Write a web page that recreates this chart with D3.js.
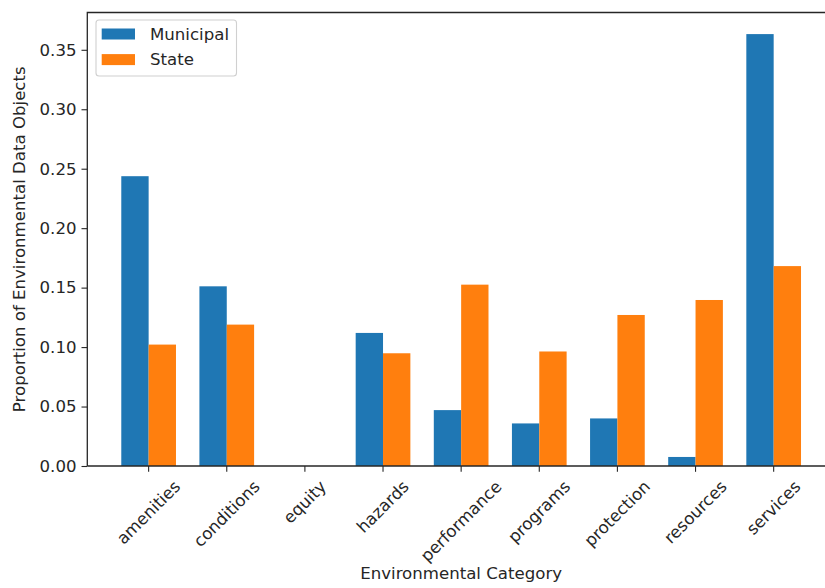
<!DOCTYPE html>
<html>
<head>
<meta charset="utf-8">
<script src="https://cdn.jsdelivr.net/npm/d3@7"></script>
<style>
html,body{margin:0;padding:0;background:#fff;overflow:hidden;}
text{font-family:"DejaVu Sans",sans-serif;fill:#262626;}
</style>
</head>
<body>
<svg id="chart" width="825" height="588"></svg>
<script>
const categories = ["amenities","conditions","equity","hazards","performance","programs","protection","resources","services"];
const municipal = [0.2437,0.1511,0,0.1119,0.0470,0.0358,0.0400,0.0076,0.3632];
const state = [0.1021,0.1189,0,0.0948,0.1525,0.0963,0.1270,0.1396,0.1681];
const seriesNames = ["Municipal","State"];
const seriesColors = ["#1f77b4","#ff7f0e"];
const yTicks = [0,0.05,0.10,0.15,0.20,0.25,0.30,0.35];

const FS = 16.6;
const barW = 0.35;
const svg = d3.select("#chart");
const L = 87.3, R = 835, T = 12.5, B = 466;
const n = categories.length;
const xPad = (n - 1 + 2*barW) * 0.05;
const x = d3.scaleLinear().domain([-barW - xPad, n - 1 + barW + xPad]).range([L, R]);
const yMax = d3.max(municipal.concat(state)) * 1.05;
const y = d3.scaleLinear().domain([0, yMax]).range([B, T]);

const series = [municipal, state];
series.forEach((vals, si) => {
  svg.append("g").selectAll("rect").data(vals).join("rect")
    .attr("x", (d,i) => x(si === 0 ? i - barW : i))
    .attr("width", x(barW) - x(0))
    .attr("y", d => y(d))
    .attr("height", d => y(0) - y(d))
    .attr("fill", seriesColors[si]);
});

// y axis
const yAxis = d3.axisLeft(y).tickValues(yTicks).tickFormat(d3.format(".2f")).tickSize(5.8).tickPadding(5);
const gy = svg.append("g").attr("transform", `translate(${L},0)`).call(yAxis);
gy.select(".domain").remove();
gy.selectAll("line").attr("stroke","#262626").attr("stroke-width",1.1);
gy.selectAll("text").attr("font-size", FS).attr("font-family","DejaVu Sans").attr("fill","#262626");

// x axis
const gx = svg.append("g");
categories.forEach((c, i) => {
  const tx = x(i);
  gx.append("line").attr("x1", tx).attr("x2", tx).attr("y1", B).attr("y2", B + 5.8)
    .attr("stroke","#262626").attr("stroke-width",1.1);
  const t = gx.append("text").text(c).attr("font-size", FS)
    .attr("text-anchor","middle").attr("dominant-baseline","central");
  const w = t.node().getComputedTextLength();
  const h = FS * 1.05;
  const top = B + 5.8 + 5.8;
  const cy = top + (w + h) * Math.SQRT1_2 / 2;
  t.attr("transform", `translate(${tx},${cy}) rotate(-45)`);
});

// spines
svg.append("path").attr("d", `M${L},${B}V${T}H${R}`).attr("fill","none").attr("stroke","#262626").attr("stroke-width",1.3);
svg.append("path").attr("d", `M${L},${B}H${R}`).attr("fill","none").attr("stroke","#262626").attr("stroke-width",1.3);

// axis labels
svg.append("text").text("Environmental Category").attr("x", (L + R) / 2).attr("y", 579)
  .attr("text-anchor","middle").attr("font-size", FS);
svg.append("text").text("Proportion of Environmental Data Objects")
  .attr("transform", `translate(25,${(T + B) / 2}) rotate(-90)`)
  .attr("text-anchor","middle").attr("font-size", FS);

// legend
const lg = svg.append("g");
lg.append("rect").attr("x", 96).attr("y", 20).attr("width", 140.5).attr("height", 56)
  .attr("rx", 3).attr("fill","#fff").attr("fill-opacity",0.8).attr("stroke","#d0d0d0").attr("stroke-width",1.1);
seriesNames.forEach((s, i) => {
  const cy = 34 + i * 25.6;
  lg.append("rect").attr("x", 101.7).attr("y", cy - 5.5).attr("width", 33.3).attr("height", 11)
    .attr("fill", seriesColors[i]);
  lg.append("text").text(s).attr("x", 150).attr("y", cy).attr("dominant-baseline","central")
    .attr("font-size", FS);
});
</script>
</body>
</html>
